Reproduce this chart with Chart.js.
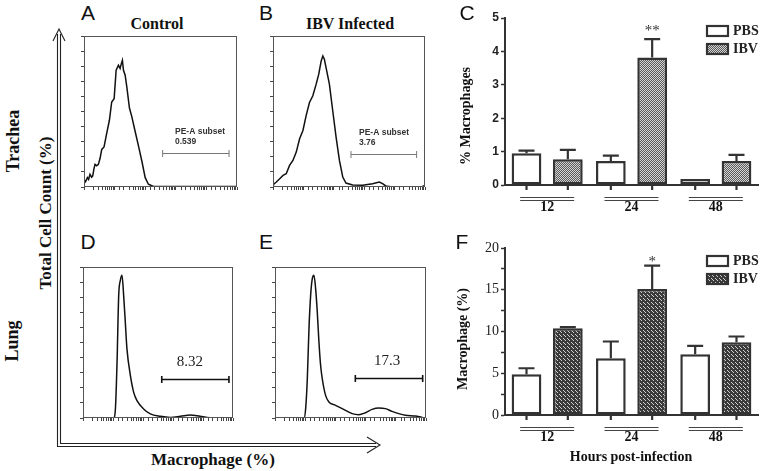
<!DOCTYPE html>
<html><head><meta charset="utf-8">
<script src="https://cdn.jsdelivr.net/npm/chart.js@4.4.1/dist/chart.umd.min.js"></script>
<style>
body{margin:0;width:762px;height:471px;background:#fff;position:relative;overflow:hidden}
.c{position:absolute}
.t{position:absolute;white-space:nowrap;color:#111;line-height:1}
.serif{font-family:"Liberation Serif","DejaVu Serif",serif;font-weight:bold}
.sans{font-family:"Liberation Sans",Arial,sans-serif}
.ctr{transform:translate(-50%,-50%)}
.rot{transform:translate(-50%,-50%) rotate(-90deg)}
</style></head>
<body>
<svg class="c" style="left:0;top:0" width="762" height="471">
 <g stroke="#222" fill="none" stroke-width="1.1">
  <path d="M57.5 34 L57.5 446.5 L376 446.5"/>
  <path d="M60.5 34 L60.5 443.5 L376 443.5"/>
  <path d="M53 41 L59 29 L65 41"/>
  <path d="M367 437 L380 445 L367 453"/>
 </g>
</svg>

<canvas id="cA" class="c" style="left:72px;top:34px" width="167" height="165"></canvas>
<canvas id="cB" class="c" style="left:261px;top:34px" width="166" height="165"></canvas>
<canvas id="cD" class="c" style="left:71px;top:265px" width="164" height="165"></canvas>
<canvas id="cE" class="c" style="left:263px;top:265px" width="165" height="165"></canvas>
<canvas id="cC" class="c" style="left:455px;top:0px" width="307" height="220"></canvas>
<canvas id="cF" class="c" style="left:455px;top:230px" width="307" height="220"></canvas>

<div class="t sans ctr" style="left:88px;top:12px;font-size:21px">A</div>
<div class="t sans ctr" style="left:266px;top:12px;font-size:21px">B</div>
<div class="t sans ctr" style="left:467px;top:12px;font-size:21px">C</div>
<div class="t sans ctr" style="left:88px;top:241px;font-size:21px">D</div>
<div class="t sans ctr" style="left:266px;top:241px;font-size:21px">E</div>
<div class="t sans ctr" style="left:462px;top:241px;font-size:21px">F</div>
<div class="t serif ctr" style="left:157px;top:24px;font-size:16px">Control</div>
<div class="t serif ctr" style="left:350px;top:24px;font-size:16px">IBV Infected</div>
<div class="t serif rot" style="left:13px;top:141px;font-size:18px">Trachea</div>
<div class="t serif rot" style="left:12px;top:341px;font-size:18px">Lung</div>
<div class="t serif rot" style="left:45px;top:213px;font-size:17px">Total Cell Count (%)</div>
<div class="t serif ctr" style="left:213px;top:459px;font-size:17px">Macrophage (%)</div>
<div class="t serif rot" style="left:466px;top:116px;font-size:14px">% Macrophages</div>
<div class="t serif rot" style="left:463px;top:339px;font-size:14px">Macrophage (%)</div>
<div class="t serif ctr" style="left:631px;top:457px;font-size:14px">Hours post-infection</div>

<script>
// ---- Flow cytometry histograms (x: % of axis, y: % of max count) ----
const controlTracheaX = [0,1,2.2,3,3.9,5,5.7,6.5,7.2,8.3,9.4,10.5,11.6,13.1,14.8,16.6,18.1,19.7,21.0,22.5,23.6,24.4,25.1,25.8,26.9,28.0,29.7,31.2,33.4,35.6,37.8,40.0,42.1,45.4,56.3,100];
const controlTracheaY = [5.1,3.5,6.2,5.0,8.4,6.5,7.3,12,15.0,14.0,15.0,19,24.9,26.5,35.3,44.2,56.3,58.5,77.3,80.6,78.5,81.7,83.9,77.3,74.0,66.2,52.3,46.8,36.9,27.2,17.2,6.2,1.8,0.3,0.3,0.3];
const ibvTracheaX = [0,0.4,2.2,4.4,6.6,8.7,10.9,13.1,15.3,17.5,19.7,21.8,24.0,26.2,28.4,30.1,31.7,32.8,33.8,34.9,37.1,39.3,41.5,43.7,45.9,48.0,52.4,59.0,65.5,69.9,72.1,74.2,78.6,87.3,98.3,100];
const ibvTracheaY = [2,1.8,3.3,5.5,7.7,8.8,14.3,17.6,23.1,31.9,37.4,47.3,56.0,60.4,68.1,74.7,83.5,86.8,84.6,79.1,68.1,50.5,33.0,17.6,6.6,2.6,1.3,1.1,2.2,3.3,2.2,0.7,0,0,0.4,1];
const controlLungX = [0,20.4,21.6,22.7,23.8,24.9,26.0,27.1,28.2,29.3,31.6,33.8,36.0,40.4,44.9,51.6,58.2,64.9,71.6,76.0,82.7,91.6,100];
const controlLungY = [0,0,6.0,37.0,81.2,91.2,94.5,81.2,63.5,45.8,28.1,17.0,11.5,6.0,2.7,1.1,0.4,1.1,2.0,1.5,0.4,0,0];
const ibvLungX = [0,19.2,20.3,21.4,22.5,23.6,24.7,25.8,26.9,28.0,29.1,30.2,31.3,33.5,35.7,40.1,44.5,51.1,55.5,59.9,64.3,68.7,73.1,77.5,81.9,86.3,93.0,97.4,100];
const ibvLungY = [0,0,6.2,26.0,59.2,81.2,92.3,94.5,85.7,70.2,50.3,34.9,26.0,15.0,10.6,8.4,6.2,2.9,2.2,3.5,5.7,6.6,6.2,4.4,2.9,1.8,1.3,0.4,0];
// gates: [from, to, level]
const gateA = [51.4, 94.8, 22.3], gateB = [51.3, 94.5, 21.7], gateD = [52.5, 97.3, 26], gateE = [53.2, 97.8, 26.7];
const gateLabelA = ['PE-A subset', '0.539'];
const gateLabelB = ['PE-A subset', '3.76'];
const gateLabelD = ['8.32'];
const gateLabelE = ['17.3'];

// ---- Bar charts ----
const hours = ['12', '24', '48'];
const seriesNames = ['PBS', 'IBV'];
const tracheaPBS = [0.95, 0.72, 0.18];
const tracheaPBSErr = [0.08, 0.16, 0];
const tracheaIBV = [0.77, 3.82, 0.72];
const tracheaIBVErr = [0.28, 0.55, 0.18];
const tracheaSig = ['', '**', ''];
const lungPBS = [4.88, 6.8, 7.28];
const lungPBSErr = [0.72, 2.0, 1.0];
const lungIBV = [10.4, 15.08, 8.72];
const lungIBVErr = [0.12, 2.8, 0.68];
const lungSig = ['', '*', ''];

const SERIF = '"Liberation Serif","DejaVu Serif",serif';
const SANS = '"Liberation Sans",Arial,sans-serif';

const framePlugin = {
  id: 'frame',
  afterDraw(c) {
    const {ctx, chartArea: a} = c;
    ctx.save(); ctx.strokeStyle = '#555'; ctx.lineWidth = 1;
    ctx.strokeRect(a.left + 0.5, a.top + 0.5, a.width - 1, a.height - 1);
    ctx.restore();
  }
};
const gatePlugin = {
  id: 'gate',
  afterDatasetsDraw(c, args, o) {
    const {ctx} = c, x = c.scales.x, y = c.scales.y;
    const x1 = x.getPixelForValue(o.range[0]), x2 = x.getPixelForValue(o.range[1]), yy = Math.round(y.getPixelForValue(o.range[2])) + 0.5;
    ctx.save();
    ctx.strokeStyle = o.color; ctx.lineWidth = o.width;
    ctx.beginPath();
    ctx.moveTo(x1, yy); ctx.lineTo(x2, yy);
    ctx.moveTo(x1, yy - 3.5); ctx.lineTo(x1, yy + 3.5);
    ctx.moveTo(x2, yy - 3.5); ctx.lineTo(x2, yy + 3.5);
    ctx.stroke();
    ctx.fillStyle = o.textColor; ctx.font = o.font; ctx.textBaseline = 'middle';
    ctx.textAlign = o.align;
    const tx = x.getPixelForValue(o.textX);
    o.text.forEach((t, i) => ctx.fillText(t, tx, yy - o.textDy + i * o.lineGap));
    ctx.restore();
  }
};

function histChart(id, xs, ys, gate, smooth) {
  const pts = xs.map((v, i) => ({x: v, y: ys[i]}));
  new Chart(document.getElementById(id), {
    type: 'line',
    data: {datasets: [{data: pts, borderColor: '#111', borderWidth: 1.5, pointRadius: 0, fill: false,
      tension: smooth ? 0.4 : 0, cubicInterpolationMode: smooth ? 'monotone' : 'default'}]},
    options: {
      responsive: false, animation: false, events: [],
      layout: {padding: {top: 2, right: 2, left: 0, bottom: 0}},
      plugins: {legend: {display: false}, tooltip: {enabled: false}, gate: gate},
      scales: {
        x: {type: 'linear', min: 0, max: 100, display: false},
        lg: {type: 'logarithmic', position: 'bottom', min: 1, max: 100000,
          grid: {drawOnChartArea: false, tickLength: 3, color: '#444'}, border: {display: false},
          ticks: {display: false}, afterFit: s => { s.height = 12; }},
        y: {min: 0, max: 100, grid: {drawOnChartArea: false, tickLength: 3, color: '#444'}, border: {display: false},
          ticks: {display: false, stepSize: 10}, afterFit: s => { s.width = 12; }}
      }
    },
    plugins: [framePlugin, gatePlugin]
  });
}

const smallGate = (range, text, tx) => ({range, text, textX: tx, color: '#777', width: 1, textColor: '#333',
  font: 'bold 8.5px ' + SANS, align: 'left', textDy: 22, lineGap: 10});
const bigGate = (range, text, tx) => ({range, text, textX: tx, color: '#111', width: 1.6, textColor: '#222',
  font: '15px ' + SERIF, align: 'center', textDy: 17, lineGap: 16});

histChart('cA', controlTracheaX, controlTracheaY, smallGate(gateA, gateLabelA, 59.5), false);
histChart('cB', ibvTracheaX, ibvTracheaY, smallGate(gateB, gateLabelB, 56.6), false);
histChart('cD', controlLungX, controlLungY, bigGate(gateD, gateLabelD, 71.3), true);
histChart('cE', ibvLungX, ibvLungY, bigGate(gateE, gateLabelE, 74.2), true);

function makePattern(w, h, bg, fg, cells) {
  const cv = document.createElement('canvas'); cv.width = w; cv.height = h;
  const g = cv.getContext('2d'); g.fillStyle = bg; g.fillRect(0, 0, w, h); g.fillStyle = fg;
  cells.forEach(([i, j]) => g.fillRect(i, j, 1, 1));
  return g.createPattern(cv, 'repeat');
}
const patTrachea = makePattern(4, 4, '#d4d4d4', '#5a5a5a', [[0,0],[2,0],[1,1],[3,1],[0,2],[2,2],[1,3],[3,3]]);
const patLung = makePattern(4, 4, '#3a3a3a', '#d0d0d0', [[0,0],[1,1],[2,2]]);

const barDeco = {
  id: 'barDeco',
  afterDatasetsDraw(chart, args, o) {
    const {ctx, chartArea: ca, scales: {x, y}} = chart;
    ctx.save();
    ctx.strokeStyle = '#333'; ctx.lineWidth = 2.2;
    chart.data.datasets.forEach((ds, di) => {
      const meta = chart.getDatasetMeta(di);
      meta.data.forEach((el, i) => {
        ctx.beginPath(); ctx.moveTo(el.x, ca.bottom); ctx.lineTo(el.x, ca.bottom + 5); ctx.stroke();
        const e = o.errors[di][i];
        if (e > 0) {
          const yt = y.getPixelForValue(ds.data[i] + e);
          ctx.beginPath(); ctx.moveTo(el.x, el.y); ctx.lineTo(el.x, yt);
          ctx.moveTo(el.x - o.cap, yt); ctx.lineTo(el.x + o.cap, yt); ctx.stroke();
        }
        if (di === chart.data.datasets.length - 1 && o.sig[i]) {
          const yt = y.getPixelForValue(ds.data[i] + o.errors[di][i]);
          ctx.fillStyle = '#333'; ctx.font = '15px ' + SERIF; ctx.textAlign = 'center'; ctx.textBaseline = 'alphabetic';
          ctx.fillText(o.sig[i], el.x, yt - o.sigGap);
        }
      });
    });
    ctx.strokeStyle = '#444'; ctx.lineWidth = 1.2;
    chart.data.labels.forEach((l, i) => {
      const cx = x.getPixelForValue(i);
      [12.5, 15.5].forEach(dy => { ctx.beginPath(); ctx.moveTo(cx - 27, ca.bottom + dy); ctx.lineTo(cx + 27, ca.bottom + dy); ctx.stroke(); });
    });
    const lx = ca.right - 51, ly = ca.top + 8;
    chart.data.datasets.forEach((ds, i) => {
      const yy = ly + i * 18;
      ctx.fillStyle = ds.backgroundColor; ctx.fillRect(lx, yy, 21, 10);
      ctx.strokeStyle = '#333'; ctx.lineWidth = 2.2; ctx.strokeRect(lx, yy, 21, 10);
      ctx.fillStyle = '#222'; ctx.font = 'bold 14px ' + SERIF; ctx.textAlign = 'left'; ctx.textBaseline = 'middle';
      ctx.fillText(ds.label, lx + 26, yy + 5.5);
    });
    ctx.restore();
  }
};

function barChart(id, pbs, ibv, pbsErr, ibvErr, sig, pat, ymax, step, yTicks, sigGap) {
  new Chart(document.getElementById(id), {
    type: 'bar',
    data: {labels: hours, datasets: [
      {label: seriesNames[0], data: pbs, backgroundColor: '#ffffff', borderColor: '#333', borderWidth: 2.5, borderSkipped: false,
        categoryPercentage: 0.98, barPercentage: 0.72},
      {label: seriesNames[1], data: ibv, backgroundColor: pat, borderColor: '#333', borderWidth: 2.5, borderSkipped: false,
        categoryPercentage: 0.98, barPercentage: 0.72}
    ]},
    options: {
      responsive: false, animation: false, events: [],
      layout: {padding: {top: 18, right: 4, left: 0, bottom: 0}},
      plugins: {legend: {display: false}, tooltip: {enabled: false},
        barDeco: {errors: [pbsErr, ibvErr], sig: sig, cap: 8, sigGap: sigGap}},
      scales: {
        x: {grid: {display: false, drawTicks: false}, border: {color: '#333', width: 2},
          ticks: {color: '#111', font: {family: SERIF, size: 14, weight: 'bold'}, padding: 14},
          afterFit: s => { s.height = 35; }},
        y: {min: 0, max: ymax, grid: {drawOnChartArea: false, tickLength: 4, tickColor: '#333', tickWidth: 1.5},
          border: {color: '#333', width: 2},
          ticks: Object.assign({stepSize: step, color: '#222', padding: 2}, yTicks),
          afterFit: s => { s.width = 50; }}
      }
    },
    plugins: [barDeco]
  });
}

barChart('cC', tracheaPBS, tracheaIBV, tracheaPBSErr, tracheaIBVErr, tracheaSig, patTrachea, 5, 1,
  {font: {family: SANS, size: 12, weight: 'bold'}}, 4);
barChart('cF', lungPBS, lungIBV, lungPBSErr, lungIBVErr, lungSig, patLung, 20, 2.5,
  {font: {family: SERIF, size: 14}, callback: v => (v % 5 === 0 ? v : '')}, 0);
</script>
</body></html>
